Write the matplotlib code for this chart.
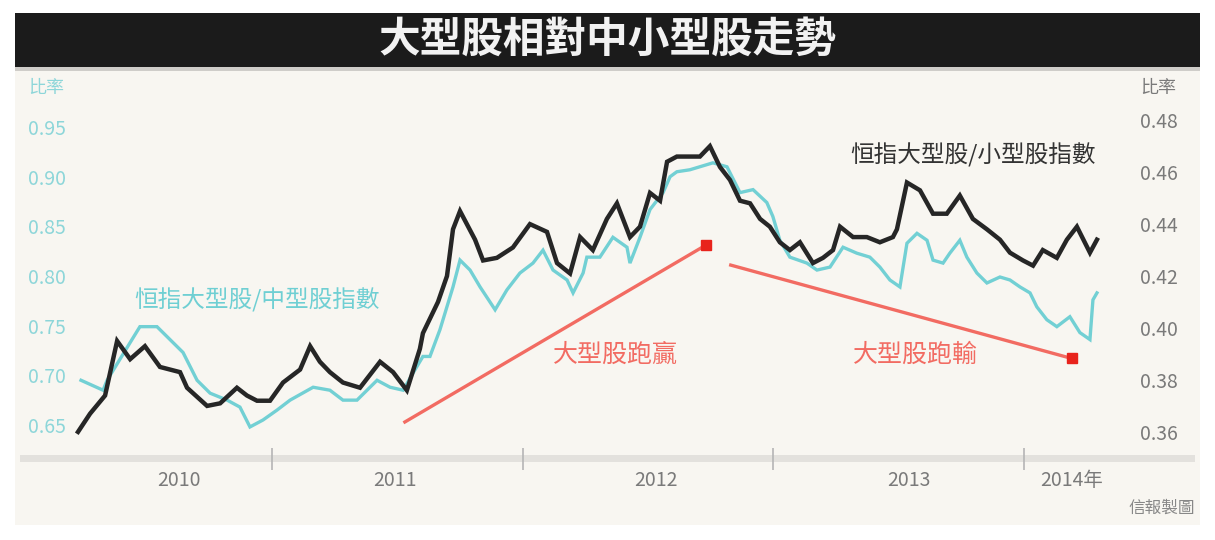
import matplotlib
matplotlib.use('Agg')
import matplotlib.pyplot as plt
from matplotlib.patches import Rectangle

plt.rcParams['font.family'] = ['Noto Sans CJK TC', 'DejaVu Sans']

title = '大型股相對中小型股走勢'
cyan_name = '恒指大型股/中型股指數'
black_name = '恒指大型股/小型股指數'
unit = '比率'
source = '信報製圖'

# 恒指大型股/中型股 (left axis), time in fractional years
cyan_t = [2010.238, 2010.326, 2010.342, 2010.434, 2010.473, 2010.541, 2010.593, 2010.645,
          2010.701, 2010.753, 2010.821, 2010.872, 2010.912, 2010.964, 2011.020, 2011.072,
          2011.164, 2011.231, 2011.283, 2011.339, 2011.419, 2011.471, 2011.523, 2011.562,
          2011.602, 2011.630, 2011.670, 2011.722, 2011.750, 2011.790, 2011.830, 2011.890,
          2011.937, 2011.989, 2012.041, 2012.081, 2012.121, 2012.177, 2012.201, 2012.241,
          2012.256, 2012.308, 2012.360, 2012.416, 2012.428, 2012.468, 2012.508, 2012.560,
          2012.588, 2012.615, 2012.667, 2012.759, 2012.815, 2012.867, 2012.919, 2012.974,
          2012.998, 2013.026, 2013.066, 2013.134, 2013.174, 2013.226, 2013.278, 2013.333,
          2013.385, 2013.425, 2013.465, 2013.505, 2013.533, 2013.573, 2013.613, 2013.637,
          2013.677, 2013.704, 2013.744, 2013.772, 2013.812, 2013.852, 2013.904, 2013.944,
          2013.984, 2014.024, 2014.051, 2014.091, 2014.131, 2014.183, 2014.223, 2014.263,
          2014.275, 2014.291]
cyan_v = [0.695, 0.685, 0.695, 0.733, 0.749, 0.749, 0.736, 0.723,
          0.695, 0.682, 0.675, 0.668, 0.648, 0.655, 0.665, 0.675,
          0.688, 0.685, 0.675, 0.675, 0.695, 0.688, 0.685, 0.702,
          0.719, 0.719, 0.746, 0.789, 0.816, 0.806, 0.789, 0.766,
          0.786, 0.803, 0.813, 0.826, 0.806, 0.796, 0.783, 0.803,
          0.819, 0.819, 0.839, 0.829, 0.813, 0.839, 0.867, 0.884,
          0.900, 0.905, 0.907, 0.914, 0.910, 0.884, 0.887, 0.874,
          0.860, 0.836, 0.819, 0.813, 0.806, 0.809, 0.829, 0.823,
          0.819, 0.809, 0.796, 0.789, 0.833, 0.843, 0.836, 0.816,
          0.813, 0.823, 0.836, 0.819, 0.803, 0.793, 0.799, 0.796,
          0.789, 0.783, 0.769, 0.756, 0.749, 0.759, 0.743, 0.736,
          0.776, 0.783]

# 恒指大型股/小型股 (right axis)
black_t = [2010.226, 2010.274, 2010.334, 2010.382, 2010.434, 2010.493, 2010.553, 2010.633,
           2010.661, 2010.741, 2010.793, 2010.860, 2010.900, 2010.940, 2010.992, 2011.044,
           2011.112, 2011.152, 2011.191, 2011.231, 2011.283, 2011.351, 2011.431, 2011.483,
           2011.538, 2011.590, 2011.602, 2011.662, 2011.698, 2011.722, 2011.750, 2011.810,
           2011.842, 2011.897, 2011.961, 2012.029, 2012.097, 2012.137, 2012.189, 2012.229,
           2012.280, 2012.336, 2012.376, 2012.428, 2012.468, 2012.508, 2012.548, 2012.576,
           2012.615, 2012.667, 2012.707, 2012.747, 2012.787, 2012.827, 2012.867, 2012.907,
           2012.947, 2012.986, 2013.026, 2013.066, 2013.106, 2013.158, 2013.198, 2013.238,
           2013.266, 2013.318, 2013.373, 2013.425, 2013.477, 2013.493, 2013.533, 2013.585,
           2013.637, 2013.692, 2013.744, 2013.796, 2013.852, 2013.904, 2013.944, 2013.996,
           2014.036, 2014.075, 2014.131, 2014.171, 2014.211, 2014.263, 2014.291]
black_v = [0.360, 0.367, 0.374, 0.395, 0.388, 0.393, 0.385, 0.383,
           0.377, 0.370, 0.371, 0.377, 0.374, 0.372, 0.372, 0.379,
           0.384, 0.393, 0.387, 0.383, 0.379, 0.377, 0.387, 0.383,
           0.376, 0.392, 0.398, 0.410, 0.420, 0.438, 0.445, 0.434,
           0.426, 0.427, 0.431, 0.440, 0.437, 0.425, 0.421, 0.435,
           0.430, 0.442, 0.448, 0.435, 0.439, 0.452, 0.449, 0.464,
           0.466, 0.466, 0.466, 0.470, 0.462, 0.457, 0.449, 0.448,
           0.442, 0.439, 0.433, 0.430, 0.433, 0.425, 0.427, 0.430,
           0.439, 0.435, 0.435, 0.433, 0.435, 0.438, 0.456, 0.453,
           0.444, 0.444, 0.451, 0.442, 0.438, 0.434, 0.429, 0.426,
           0.424, 0.430, 0.427, 0.434, 0.439, 0.429, 0.434]

left_ticks = [0.65, 0.70, 0.75, 0.80, 0.85, 0.90, 0.95]
right_ticks = [0.36, 0.38, 0.40, 0.42, 0.44, 0.46, 0.48]
year_bounds = [2011, 2012, 2013, 2014]
year_labels = ['2010', '2011', '2012', '2013', '2014年']
year_label_pos = [2010.63, 2011.49, 2012.53, 2013.54, 2014.19]

# red trend arrows (left axis units)
trend_start = [(2011.53, 0.653), (2012.83, 0.811)]
trend_end = [(2012.73, 0.831), (2014.19, 0.717)]
trend_labels = ['大型股跑贏', '大型股跑輸']

W, H = 1215, 540


def box(x0, y0, x1, y1):
    return [x0 / W, 1 - y1 / H, (x1 - x0) / W, (y1 - y0) / H]


def fx(x):
    return x / W


def fy(y):
    return 1 - y / H


fig = plt.figure(figsize=(12.15, 5.4), dpi=100, facecolor='white')
fig.patches.append(Rectangle((fx(15), fy(525)), fx(1185), (525 - 13) / H, transform=fig.transFigure,
                             facecolor='#f8f6f1', edgecolor='none', zorder=-10))
fig.patches.append(Rectangle((fx(15), fy(67)), fx(1185), 54 / H, transform=fig.transFigure,
                             facecolor='#1b1b1b', edgecolor='none', zorder=-5))
fig.patches.append(Rectangle((fx(15), fy(71)), fx(1185), 4 / H, transform=fig.transFigure,
                             facecolor='#cfcdc9', edgecolor='none', zorder=-5))
fig.patches.append(Rectangle((fx(20), fy(462)), fx(1175), 7 / H, transform=fig.transFigure,
                             facecolor='#e3e1dd', edgecolor='none', zorder=-5))
fig.text(0.5, fy(40), title, color='#f2f2f2', fontsize=30, fontweight='bold', ha='center', va='center')

ax = fig.add_axes(box(75, 95, 1115, 448))
ax.set_facecolor('none')
ax2 = ax.twinx()

ax.plot(cyan_t, cyan_v, color='#72d0d4', lw=2.4, solid_joinstyle='miter')
ax2.plot(black_t, black_v, color='#262626', lw=3.2, solid_joinstyle='miter')

for (x0, y0), (x1, y1) in zip(trend_start, trend_end):
    ax.plot([x0, x1], [y0, y1], color='#f26b62', lw=2.4)
    ax.plot([x1], [y1], marker='s', ms=7, color='#e8231c', ls='none')

ax.set_xlim(2010.214, 2014.363)
ax.set_ylim(0.6268, 0.9823)
ax2.set_ylim(0.3538, 0.4897)

for a in (ax, ax2):
    for s in a.spines.values():
        s.set_visible(False)

ax.set_yticks(left_ticks)
ax.set_yticklabels(['%.2f' % v for v in left_ticks], color='#8dd6d9', fontsize=14)
for lab in ax.get_yticklabels():
    lab.set_ha('left')
ax.tick_params(axis='y', length=0, pad=34)

ax2.set_yticks(right_ticks)
ax2.set_yticklabels(['%.2f' % v for v in right_ticks], color='#7a7a7a', fontsize=14)
ax2.tick_params(axis='y', length=0, pad=18)

ax.set_xticks(year_bounds)
ax.set_xticklabels([])
ax.tick_params(axis='x', which='major', length=16, width=1.2, color='#b5b5b5', direction='out')
ax.set_xticks(year_label_pos, minor=True)
ax.set_xticklabels(year_labels, minor=True, color='#7a7a7a', fontsize=14)
ax.tick_params(axis='x', which='minor', length=0, pad=16)

fig.text(fx(28), fy(88), unit, color='#8dd6d9', fontsize=13, ha='left', va='center')
fig.text(fx(1140), fy(88), unit, color='#7a7a7a', fontsize=13, ha='left', va='center')
fig.text(fx(257), fy(300), cyan_name, color='#6fcfd3', fontsize=17, ha='center', va='center')
fig.text(fx(973), fy(155), black_name, color='#333333', fontsize=17, ha='center', va='center')
fig.text(fx(615), fy(355), trend_labels[0], color='#f26b62', fontsize=18, ha='center', va='center')
fig.text(fx(915), fy(355), trend_labels[1], color='#f26b62', fontsize=18, ha='center', va='center')
fig.text(fx(1195), fy(508), source, color='#888888', fontsize=12, ha='right', va='center')

fig.savefig('out.png', dpi=100, facecolor=fig.get_facecolor())
